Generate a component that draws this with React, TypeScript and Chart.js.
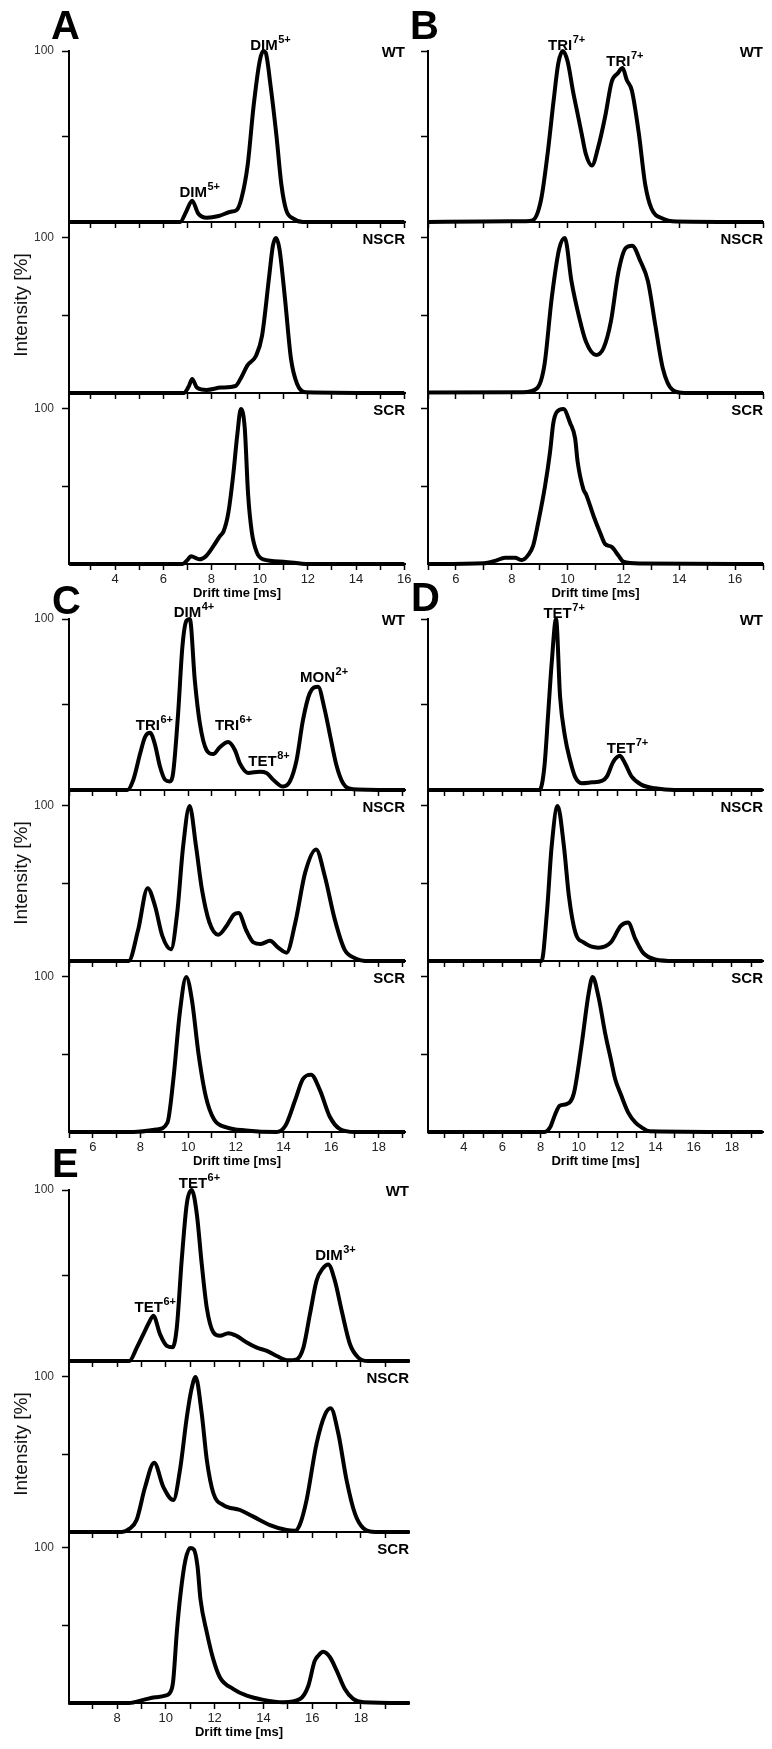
import React, { useEffect, useRef } from 'react';
import { Chart, registerables } from 'chart.js';

Chart.register(...registerables);

const FONT = "'Liberation Sans', Arial, Helvetica, sans-serif";
Chart.defaults.font.family = FONT;

// ---------------- DATA (drift time [ms], intensity [%]) ----------------
// Panel A
const A_WT_T = [2.1, 6.7, 6.95, 7.2, 7.45, 7.8, 8.3, 8.8, 9.05, 9.25, 9.5, 9.75, 10.0, 10.15, 10.25, 10.45, 10.7, 10.9, 11.1, 11.4, 11.8, 16];
const A_WT_I = [0, 0, 6, 12.5, 5, 2.5, 3.5, 6, 7, 14, 33, 68, 94, 100, 99, 80, 50, 22, 7, 2, 0, 0];
const A_NSCR_T = [2.1, 6.85, 7.05, 7.2, 7.4, 7.8, 8.4, 9.0, 9.2, 9.5, 9.85, 10.1, 10.4, 10.55, 10.68, 10.82, 11.05, 11.3, 11.55, 11.9, 16];
const A_NSCR_I = [0, 0, 4, 9, 3.5, 2, 3.5, 4.5, 9, 18, 24, 37, 76, 95, 100, 93, 61, 22, 6, 0.5, 0];
const A_SCR_T = [2.1, 6.8, 7.0, 7.15, 7.5, 7.8, 8.1, 8.35, 8.5, 8.7, 8.9, 9.07, 9.22, 9.38, 9.52, 9.67, 9.88, 10.15, 11.0, 12.0, 16];
const A_SCR_I = [0, 0, 2.5, 5, 3, 5.5, 12, 18, 21, 33, 57, 83, 100, 88, 45, 21, 7.5, 3, 1.5, 0, 0];

// Panel B
const B_WT_T = [5, 7, 8.5, 8.75, 9.05, 9.3, 9.5, 9.67, 9.83, 10.0, 10.2, 10.35, 10.5, 10.65, 10.87, 11.1, 11.35, 11.58, 11.8, 11.97, 12.12, 12.3, 12.55, 12.78, 13.0, 13.4, 13.9, 17];
const B_WT_I = [0, 0.3, 0.5, 1, 13, 42, 71, 93, 100, 94, 76, 64, 52, 40, 33, 44, 62, 82, 87, 90, 83, 77, 52, 22, 8, 2, 0.3, 0];
const B_NSCR_T = [5, 8.4, 8.9, 9.17, 9.43, 9.7, 9.9, 10.14, 10.4, 10.66, 11.02, 11.29, 11.55, 11.82, 12.08, 12.31, 12.61, 12.88, 13.14, 13.41, 13.76, 14.2, 17];
const B_NSCR_I = [0.3, 0.5, 3, 18, 61, 93, 100, 72, 50, 33, 24.5, 29, 46, 78, 93.5, 95, 85, 72, 44, 16, 2, 0, 0];
const B_SCR_T = [5, 7.0, 7.4, 7.76, 8.12, 8.36, 8.6, 8.77, 8.95, 9.19, 9.37, 9.49, 9.61, 9.85, 10.09, 10.27, 10.36, 10.57, 10.66, 10.93, 11.17, 11.34, 11.58, 11.82, 12.0, 12.6, 17];
const B_SCR_I = [0, 0.5, 2, 4, 4, 2.5, 6, 12, 27, 50, 72, 91, 98, 100, 91, 81, 66, 48, 45, 31, 20, 13, 11, 5.5, 1.5, 0.3, 0];

// Panel C
const C_WT_T = [5, 7.45, 7.7, 7.98, 8.19, 8.4, 8.6, 8.82, 9.03, 9.23, 9.37, 9.58, 9.76, 9.93, 10.07, 10.28, 10.49, 10.77, 11.05, 11.33, 11.68, 11.96, 12.17, 12.52, 13.0, 13.29, 13.57, 13.98, 14.27, 14.55, 14.82, 15.1, 15.45, 15.73, 15.94, 16.22, 16.5, 16.92, 19.1];
const C_WT_I = [0, 0, 6, 21, 31, 33.5, 27, 13.6, 6, 5, 10, 45, 84, 99, 100, 64, 39, 23.4, 21, 25, 28, 23.4, 15.6, 10, 10.7, 10, 6, 2, 5, 17.5, 41, 56.5, 60.4, 47, 33, 14.6, 4, 0.5, 0];
const C_NSCR_T = [5, 7.5, 7.9, 8.3, 8.61, 8.92, 9.28, 9.54, 9.79, 10.06, 10.33, 10.58, 10.89, 11.26, 11.61, 11.92, 12.12, 12.43, 12.74, 13.05, 13.43, 13.78, 14.13, 14.5, 14.91, 15.37, 15.73, 16.15, 16.56, 16.98, 17.6, 19.1];
const C_NSCR_I = [0, 0, 20, 47, 35.5, 16, 7.5, 31, 74, 100, 74, 46, 25, 17, 22.6, 30, 31, 20, 12, 11, 13, 8.6, 5.4, 25, 57, 72, 55, 27, 7.5, 2, 0, 0];
const C_SCR_T = [5, 7.7, 8.7, 9.13, 9.38, 9.65, 9.92, 10.16, 10.43, 10.74, 11.09, 11.61, 12.43, 13.7, 14.08, 14.5, 14.81, 15.16, 15.53, 15.94, 16.36, 17.0, 19.1];
const C_SCR_I = [0, 0, 1.7, 6, 34, 77, 100, 85, 51, 23, 8, 3, 1, 0, 4, 21, 34, 37, 27, 10, 2, 0, 0];

// Panel D
const D_WT_T = [2.1, 7.95, 8.2, 8.4, 8.58, 8.81, 9.02, 9.28, 9.54, 9.8, 10.15, 10.67, 11.2, 11.46, 11.8, 12.15, 12.41, 12.76, 13.28, 13.98, 15.0, 19.6];
const D_WT_I = [0, 0, 13.6, 45, 74, 100, 54.5, 31, 17.5, 7.8, 4, 4.5, 5.3, 7.8, 16.5, 20, 15.6, 7.8, 3, 1, 0, 0];
const D_NSCR_T = [2.1, 8.05, 8.33, 8.58, 8.89, 9.22, 9.48, 9.82, 10.25, 11.03, 11.67, 12.19, 12.57, 12.96, 13.35, 13.99, 15.0, 19.6];
const D_NSCR_I = [0, 0, 31, 74, 100, 74, 42, 18.3, 12, 8.6, 12, 22.6, 24.8, 14, 5.4, 1, 0, 0];
const D_SCR_T = [2.1, 8.2, 8.5, 8.75, 9.0, 9.36, 9.74, 10.13, 10.52, 10.72, 11.03, 11.37, 11.67, 11.9, 12.2, 12.58, 12.96, 13.28, 13.7, 19.6];
const D_SCR_I = [0, 0, 3, 11, 17, 18, 25, 55, 90, 100, 87, 64, 47, 34, 24, 12.5, 6, 3, 0.5, 0];

// Panel E
const E_WT_T = [6, 8.5, 8.81, 9.08, 9.28, 9.49, 9.76, 10.04, 10.28, 10.45, 10.65, 10.86, 11.06, 11.27, 11.47, 11.68, 11.95, 12.22, 12.56, 12.9, 13.32, 13.73, 14.14, 14.55, 15.02, 15.37, 15.64, 15.91, 16.18, 16.43, 16.66, 16.93, 17.21, 17.55, 17.89, 18.3, 20];
const E_WT_I = [0, 0, 7.8, 15.7, 21.6, 26.5, 15.7, 8.8, 8, 19.6, 58.8, 92, 100, 86, 57, 31, 16.7, 14.7, 16.3, 14.7, 10.8, 7.8, 5.9, 2.9, 0.4, 1, 7.8, 27.5, 47, 54, 56.5, 47, 29.4, 9.8, 2, 0, 0];
const E_NSCR_T = [6, 8.2, 8.5, 8.8, 9.15, 9.52, 9.9, 10.31, 10.58, 10.86, 11.05, 11.22, 11.47, 11.68, 11.95, 12.36, 13.04, 13.59, 14.27, 14.95, 15.3, 15.5, 15.77, 16.18, 16.52, 16.76, 17.07, 17.41, 17.75, 18.1, 18.6, 20];
const E_NSCR_I = [0, 0, 2, 7.7, 29, 44.7, 29, 20.6, 40, 74, 92, 100, 76.6, 46.5, 25, 17.4, 14.2, 9.9, 4.5, 1.3, 0.8, 5, 20.6, 57, 75.5, 79.8, 63.7, 33.5, 12, 2.4, 0, 0];
const E_SCR_T = [6, 8.5, 9.08, 9.56, 9.97, 10.24, 10.31, 10.45, 10.6, 10.8, 11.0, 11.15, 11.3, 11.42, 11.68, 11.95, 12.22, 12.77, 13.32, 14.0, 14.82, 15.5, 15.84, 16.1, 16.25, 16.45, 16.73, 17.0, 17.34, 17.68, 18.1, 20];
const E_SCR_I = [0, 0, 2, 3.7, 4.7, 9, 15.5, 45.6, 70, 92, 100, 99, 88, 67, 45.6, 28, 16.5, 9, 4.7, 2, 0.5, 2.6, 11, 27, 30.5, 33, 29.5, 21, 9, 2.6, 0.5, 0];

// Peak annotations (WT traces): label text, charge superscript, anchor time, anchor intensity
const A_ANN_TEXT = ['DIM', 'DIM'];
const A_ANN_SUP = ['5+', '5+'];
const A_ANN_T = [7.24, 10.18];
const A_ANN_V = [14.6, 100.6];
const B_ANN_TEXT = ['TRI', 'TRI'];
const B_ANN_SUP = ['7+', '7+'];
const B_ANN_T = [9.73, 11.82];
const B_ANN_V = [100.6, 91.2];
const C_ANN_TEXT = ['TRI', 'DIM', 'TRI', 'TET', 'MON'];
const C_ANN_SUP = ['6+', '4+', '6+', '8+', '2+'];
const C_ANN_T = [8.31, 9.97, 11.63, 13.12, 15.43];
const C_ANN_V = [35.1, 101.2, 35.1, 14, 63.2];
const D_ANN_TEXT = ['TET', 'TET'];
const D_ANN_SUP = ['7+', '7+'];
const D_ANN_T = [8.89, 12.2];
const D_ANN_V = [100.6, 21.6];
const E_ANN_TEXT = ['TET', 'TET', 'DIM'];
const E_ANN_SUP = ['6+', '6+', '3+'];
const E_ANN_T = [9.3, 11.11, 16.69];
const E_ANN_V = [28.7, 101.2, 59];

const LAYER_NAMES = ['WT', 'NSCR', 'SCR'];
const Y_TICKS = [50, 100];
const X_AXIS_TITLE = 'Drift time [ms]';
const Y_AXIS_TITLE = 'Intensity [%]';

// ---------------- LAYOUT ----------------
const LAYER_H = 171;
const Y_AXIS_W = 50;
const RIGHT_PAD = 14;

type Panel = {
  id: string; left: number; right: number; top: number; xmin: number; xmax: number; yLabels: boolean;
  series: number[][][]; ann: { text: string[]; sup: string[]; t: number[]; v: number[] };
  letter: [number, number];
};

const PANELS: Panel[] = [
  { id: 'A', left: 69, right: 405, top: 51, xmin: 2.09, xmax: 16.03, yLabels: true,
    series: [[A_WT_T, A_WT_I], [A_NSCR_T, A_NSCR_I], [A_SCR_T, A_SCR_I]],
    ann: { text: A_ANN_TEXT, sup: A_ANN_SUP, t: A_ANN_T, v: A_ANN_V }, letter: [51, 5] },
  { id: 'B', left: 428, right: 763, top: 51, xmin: 5, xmax: 17, yLabels: false,
    series: [[B_WT_T, B_WT_I], [B_NSCR_T, B_NSCR_I], [B_SCR_T, B_SCR_I]],
    ann: { text: B_ANN_TEXT, sup: B_ANN_SUP, t: B_ANN_T, v: B_ANN_V }, letter: [410, 5] },
  { id: 'C', left: 69, right: 405, top: 619, xmin: 5, xmax: 19.1, yLabels: true,
    series: [[C_WT_T, C_WT_I], [C_NSCR_T, C_NSCR_I], [C_SCR_T, C_SCR_I]],
    ann: { text: C_ANN_TEXT, sup: C_ANN_SUP, t: C_ANN_T, v: C_ANN_V }, letter: [52, 580] },
  { id: 'D', left: 428, right: 763, top: 619, xmin: 2.12, xmax: 19.62, yLabels: false,
    series: [[D_WT_T, D_WT_I], [D_NSCR_T, D_NSCR_I], [D_SCR_T, D_SCR_I]],
    ann: { text: D_ANN_TEXT, sup: D_ANN_SUP, t: D_ANN_T, v: D_ANN_V }, letter: [411, 577] },
  { id: 'E', left: 69, right: 409, top: 1190, xmin: 6.03, xmax: 19.97, yLabels: true,
    series: [[E_WT_T, E_WT_I], [E_NSCR_T, E_NSCR_I], [E_SCR_T, E_SCR_I]],
    ann: { text: E_ANN_TEXT, sup: E_ANN_SUP, t: E_ANN_T, v: E_ANN_V }, letter: [52, 1143] },
];

type LayerProps = { panel: Panel; index: number };

function Layer({ panel, index }: LayerProps) {
  const ref = useRef<HTMLCanvasElement | null>(null);
  const isTop = index === 0;
  const isBottom = index === 2;
  const topPad = isTop ? 42 : 4;
  const bottomPad = isBottom ? 44 : 8;
  const plotTop = panel.top + index * LAYER_H;
  const W = Y_AXIS_W + (panel.right - panel.left) + RIGHT_PAD;
  const H = topPad + LAYER_H + bottomPad;
  const ymax = isTop ? 100 : 110.3;

  useEffect(() => {
    const canvas = ref.current;
    if (!canvas) return;
    const [T, I] = panel.series[index];
    const ints: number[] = [];
    for (let v = Math.ceil(panel.xmin); v <= Math.floor(panel.xmax); v++) ints.push(v);

    const zeroPad = (s: any) => {
      s.paddingTop = 0;
      s.paddingBottom = 0;
      s.paddingLeft = 0;
      s.paddingRight = 0;
    };

    const textPlugin = {
      id: 'layerText',
      afterDraw(chart: any) {
        const ctx = chart.ctx;
        const ca = chart.chartArea;
        const xs = chart.scales.x;
        const ys = chart.scales.y;
        ctx.save();
        ctx.fillStyle = '#000';
        ctx.font = `bold 15px ${FONT}`;
        ctx.textAlign = 'right';
        ctx.textBaseline = 'middle';
        ctx.fillText(LAYER_NAMES[index], ca.right, ys.getPixelForValue(100) + 1.5);
        if (isTop) {
          const a = panel.ann;
          for (let k = 0; k < a.text.length; k++) {
            const px = xs.getPixelForValue(a.t[k]);
            const py = ys.getPixelForValue(a.v[k]);
            ctx.font = `bold 15px ${FONT}`;
            ctx.textAlign = 'center';
            ctx.textBaseline = 'alphabetic';
            ctx.fillText(a.text[k], px, py);
            const w = ctx.measureText(a.text[k]).width;
            ctx.font = `bold 11px ${FONT}`;
            ctx.textAlign = 'left';
            ctx.fillText(a.sup[k], px + w / 2 + 0.5, py - 7);
          }
        }
        if (isBottom) {
          ctx.font = `bold 13px ${FONT}`;
          ctx.textAlign = 'center';
          ctx.textBaseline = 'middle';
          ctx.fillText(X_AXIS_TITLE, (ca.left + ca.right) / 2, ca.bottom + 29);
        }
        ctx.restore();
      },
    };

    const chart = new Chart(canvas, {
      type: 'line',
      data: {
        datasets: [
          {
            data: T.map((x: number, k: number) => ({ x, y: I[k] })),
            borderColor: '#000',
            borderWidth: 4,
            pointRadius: 0,
            pointHoverRadius: 0,
            pointHitRadius: 0,
            cubicInterpolationMode: 'monotone',
            fill: false,
            clip: false,
          } as any,
        ],
      },
      options: {
        animation: false,
        responsive: false,
        maintainAspectRatio: false,
        devicePixelRatio: 1,
        events: [],
        layout: { padding: { left: 0, right: RIGHT_PAD, top: topPad, bottom: 0 }, autoPadding: false } as any,
        plugins: { legend: { display: false }, tooltip: { enabled: false }, title: { display: false } },
        scales: {
          x: {
            type: 'linear',
            position: 'bottom',
            min: panel.xmin,
            max: panel.xmax,
            afterBuildTicks: (s: any) => { s.ticks = ints.map((v) => ({ value: v })); },
            afterFit: (s: any) => { s.height = bottomPad; zeroPad(s); },
            ticks: {
              autoSkip: false,
              maxRotation: 0,
              padding: 2,
              color: '#222',
              font: { size: 13, family: FONT },
              callback: (v: any) => (isBottom && Number(v) % 2 === 0 ? String(v) : ''),
            },
            grid: { drawOnChartArea: false, drawTicks: true, tickLength: 6, tickWidth: 1.5, tickColor: '#000' },
            border: { display: true, color: '#000', width: 2 },
          },
          y: {
            type: 'linear',
            position: 'left',
            min: 0,
            max: ymax,
            afterBuildTicks: (s: any) => { s.ticks = Y_TICKS.map((v) => ({ value: v })); },
            afterFit: (s: any) => { s.width = Y_AXIS_W; zeroPad(s); },
            ticks: {
              padding: 8,
              color: '#333',
              font: { size: 12, family: FONT },
              callback: (v: any) => (panel.yLabels && Number(v) === 100 ? '100' : ''),
            },
            grid: { drawOnChartArea: false, drawTicks: true, tickLength: 7, tickWidth: 1.5, tickColor: '#000' },
            border: { display: true, color: '#000', width: 2 },
          },
        },
      } as any,
      plugins: [textPlugin],
    });
    return () => chart.destroy();
  }, []);

  return (
    <canvas
      ref={ref}
      width={W}
      height={H}
      style={{ position: 'absolute', left: panel.left - Y_AXIS_W, top: plotTop - topPad, width: W, height: H }}
    />
  );
}

export default function App() {
  return (
    <div style={{ position: 'absolute', left: 0, top: 0, width: 772, height: 1749, background: '#fff', overflow: 'hidden' }}>
      {PANELS.map((p) => (
        <React.Fragment key={p.id}>
          {[0, 1, 2].map((i) => (
            <Layer key={p.id + i} panel={p} index={i} />
          ))}
          <div
            style={{
              position: 'absolute', left: p.letter[0], top: p.letter[1], font: `bold 40px ${FONT}`,
              lineHeight: '40px', color: '#000',
            }}
          >
            {p.id}
          </div>
          {p.yLabels && (
            <div
              style={{
                position: 'absolute', left: 22 - 100, top: p.top + LAYER_H * 1.5 - 3 - 12, width: 200, height: 24,
                lineHeight: '24px', textAlign: 'center', font: `19px ${FONT}`, color: '#111',
                transform: 'rotate(-90deg)', transformOrigin: '50% 50%',
              }}
            >
              {Y_AXIS_TITLE}
            </div>
          )}
        </React.Fragment>
      ))}
    </div>
  );
}
